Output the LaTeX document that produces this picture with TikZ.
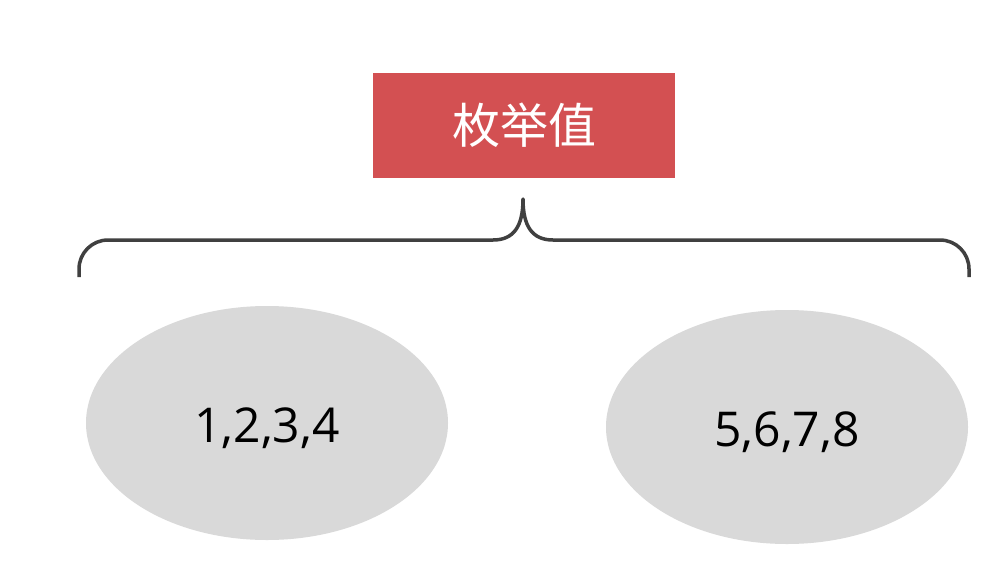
\documentclass[tikz,border=0pt]{standalone}
\usepackage{fontspec}
\setmainfont{Open Sans}
\newfontfamily\cjk{Noto Sans CJK SC}
\usetikzlibrary{shapes.geometric}
\definecolor{boxred}{HTML}{D35052}
\definecolor{ellgray}{HTML}{D9D9D9}
\definecolor{bracegray}{HTML}{404040}
\tikzset{
  titlebox/.style={fill=boxred, draw=none, minimum width=302pt, minimum height=105pt, inner sep=0pt, text=white, font=\cjk\fontsize{48}{58}\selectfont},
  valell/.style={ellipse, fill=ellgray, draw=none, minimum width=362pt, minimum height=234pt, inner sep=0pt, text=black, font=\fontsize{48}{58}\selectfont, text height=38pt, text depth=0pt},
  bracestyle/.style={draw=bracegray, line width=3.5pt, line cap=butt, line join=round}
}
\begin{document}
\begin{tikzpicture}[x=1pt,y=-1pt]
\fill[white] (0,0) rectangle (1006,587);
\useasboundingbox (0,0) rectangle (1006,587);
\node[titlebox] (title) at (524,125.5) {枚举值};
\node[valell] (left) at (267,423) {1,2,3,4};
\node[valell] (right) at (787,427) {5,6,7,8};
\coordinate (tip) at (523,199);
\coordinate (lend) at (79,277);
\coordinate (rend) at (969,277);
\draw[bracestyle] (lend) -- (79,269) arc[start angle=180, end angle=270, radius=29] -- (493,240)
  .. controls (514,240) and (523,226) .. (tip)
  .. controls (523,226) and (532,240) .. (553,240) -- (940,240)
  arc[start angle=270, end angle=360, radius=29] -- (rend);
\end{tikzpicture}
\end{document}
